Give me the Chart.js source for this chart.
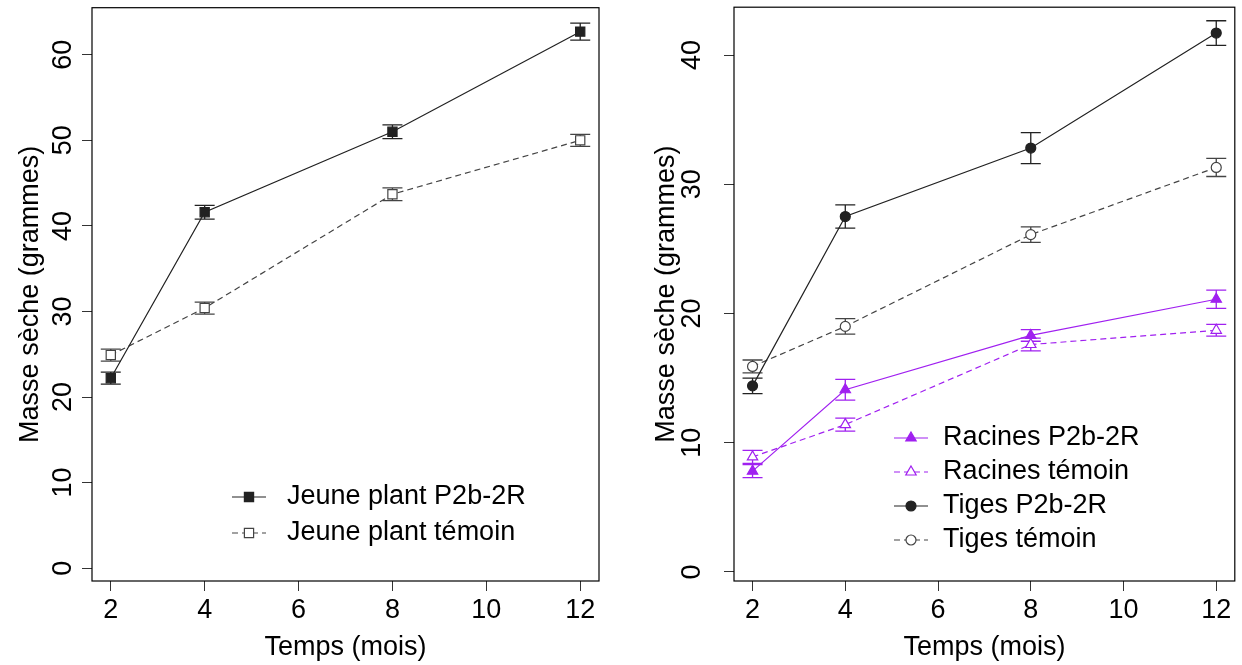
<!DOCTYPE html>
<html>
<head>
<meta charset="utf-8">
<script src="https://cdn.jsdelivr.net/npm/chart.js@4.4.1/dist/chart.umd.min.js"></script>
<style>
  html, body { margin: 0; padding: 0; background: #fff; }
  #gauche, #droite { position: absolute; top: 0; }
  #gauche { left: 0; }
  #droite { left: 621px; }
</style>
</head>
<body>
<canvas id="gauche" width="621" height="665"></canvas>
<canvas id="droite" width="621" height="665"></canvas>
<script>
// mois de mesure
const mois = [2, 4, 8, 12];
const xTicks = [2, 4, 6, 8, 10, 12];
const yTicksGauche = [0, 10, 20, 30, 40, 50, 60];
const yTicksDroite = [0, 10, 20, 30, 40];

// panneau gauche : jeune plant
const jeunePlantP2b = [22.2, 41.6, 51.0, 62.7];
const jeunePlantP2bErr = [0.7, 0.8, 0.8, 1.0];
const jeunePlantTemoin = [24.9, 30.4, 43.7, 50.0];
const jeunePlantTemoinErr = [0.7, 0.7, 0.75, 0.7];

// panneau droit : racines et tiges
const racinesP2b = [7.8, 14.1, 18.3, 21.1];
const racinesP2bErr = [0.5, 0.8, 0.45, 0.7];
const racinesTemoin = [8.9, 11.4, 17.6, 18.7];
const racinesTemoinErr = [0.5, 0.5, 0.5, 0.45];
const tigesP2b = [14.4, 27.5, 32.8, 41.7];
const tigesP2bErr = [0.6, 0.9, 1.2, 0.95];
const tigesTemoin = [15.9, 19.0, 26.1, 31.3];
const tigesTemoinErr = [0.5, 0.6, 0.6, 0.7];

const police = '"Liberation Sans", Arial, sans-serif';
const noir = '#222';
const violet = '#a020f0';

const points = vals => mois.map((m, i) => ({ x: m, y: vals[i] }));

function serie(label, vals, err, couleur, plein, style, rayon, tirets) {
  return {
    label: label,
    data: points(vals),
    err: err,
    borderColor: couleur,
    borderWidth: 1.2,
    borderDash: tirets ? [6, 4] : [],
    pointStyle: style,
    pointRadius: rayon,
    pointBackgroundColor: plein ? couleur : '#fff',
    pointBorderColor: couleur,
    pointBorderWidth: 1.2,
    tension: 0,
  };
}

// barres d'erreur
const errorBars = {
  id: 'errorBars',
  beforeDatasetsDraw(chart) {
    const { ctx, scales: { x, y } } = chart;
    chart.data.datasets.forEach(ds => {
      ctx.save();
      ctx.strokeStyle = ds.borderColor;
      ctx.lineWidth = 1.3;
      ds.data.forEach((p, j) => {
        const px = x.getPixelForValue(p.x);
        const haut = y.getPixelForValue(p.y + ds.err[j]);
        const bas = y.getPixelForValue(p.y - ds.err[j]);
        ctx.beginPath();
        ctx.moveTo(px, haut); ctx.lineTo(px, bas);
        ctx.moveTo(px - 10, haut); ctx.lineTo(px + 10, haut);
        ctx.moveTo(px - 10, bas); ctx.lineTo(px + 10, bas);
        ctx.stroke();
      });
      ctx.restore();
    });
  }
};

// cadre autour de la zone de tracé
const cadre = {
  id: 'cadre',
  afterDraw(chart) {
    const { ctx, chartArea: a } = chart;
    ctx.save();
    ctx.strokeStyle = '#000';
    ctx.lineWidth = 1.2;
    ctx.strokeRect(a.left, a.top, a.right - a.left, a.bottom - a.top);
    ctx.restore();
  }
};

// légende façon R, dans la zone de tracé
const legendeR = {
  id: 'legendeR',
  afterDraw(chart, args, opts) {
    const ctx = chart.ctx;
    ctx.save();
    ctx.font = '27px ' + police;
    ctx.textBaseline = 'middle';
    chart.data.datasets.forEach((ds, i) => {
      const y = opts.y + i * opts.dy;
      ctx.strokeStyle = ds.borderColor;
      ctx.lineWidth = 1.2;
      ctx.setLineDash(ds.borderDash);
      ctx.beginPath();
      ctx.moveTo(opts.x - 17, y); ctx.lineTo(opts.x + 17, y);
      ctx.stroke();
      ctx.setLineDash([]);
      ctx.fillStyle = ds.pointBackgroundColor;
      ctx.strokeStyle = ds.pointBorderColor;
      Chart.helpers.drawPoint(ctx, { pointStyle: ds.pointStyle, radius: ds.pointRadius, borderWidth: 1.2, rotation: 0 }, opts.x, y);
      ctx.fillStyle = '#000';
      ctx.fillText(ds.label, opts.tx, y);
    });
    ctx.restore();
  }
};

function options(yMin, yMax, yTicks, yLarg, yPad, titrePad, xHaut, droitePad, leg) {
  const fonte = { family: police, size: 27 };
  return {
    responsive: false,
    animation: false,
    layout: { padding: { left: 0, right: droitePad, top: 5, bottom: 0 } },
    plugins: { legend: { display: false }, tooltip: { enabled: false }, legendeR: leg },
    scales: {
      x: {
        type: 'linear', min: 1.6, max: 12.4,
        afterBuildTicks: s => { s.ticks = xTicks.map(v => ({ value: v })); },
        afterFit: s => { s.height = xHaut; s.paddingLeft = 0; s.paddingRight = 0; },
        grid: { drawOnChartArea: false, tickLength: 10, tickColor: '#333' },
        border: { display: false },
        ticks: { font: fonte, color: '#000', padding: 3, maxRotation: 0 },
        title: { display: true, text: 'Temps (mois)', font: fonte, color: '#000', padding: { top: 0, bottom: 1 } }
      },
      y: {
        type: 'linear', min: yMin, max: yMax,
        afterBuildTicks: s => { s.ticks = yTicks.map(v => ({ value: v })); },
        afterFit: s => { s.width = yLarg; s.paddingTop = 0; s.paddingBottom = 0; },
        grid: { drawOnChartArea: false, tickLength: 10, tickColor: '#333' },
        border: { display: false },
        ticks: { font: fonte, color: '#000', padding: yPad, minRotation: 90, maxRotation: 90, crossAlign: 'center' },
        title: { display: true, text: 'Masse sèche (grammes)', font: fonte, color: '#000', padding: { top: titrePad, bottom: 0 } }
      }
    }
  };
}

new Chart(document.getElementById('gauche'), {
  type: 'line',
  data: {
    datasets: [
      serie('Jeune plant P2b-2R', jeunePlantP2b, jeunePlantP2bErr, noir, true, 'rect', 6.5, false),
      serie('Jeune plant témoin', jeunePlantTemoin, jeunePlantTemoinErr, '#444', false, 'rect', 6.5, true),
    ]
  },
  options: options(-1.5, 65.5, yTicksGauche, 92, 3, 14, 84, 22, { x: 249, tx: 287, y: 497, dy: 36 }),
  plugins: [errorBars, cadre, legendeR]
});

new Chart(document.getElementById('droite'), {
  type: 'line',
  data: {
    datasets: [
      serie('Racines P2b-2R', racinesP2b, racinesP2bErr, violet, true, 'triangle', 6, false),
      serie('Racines témoin', racinesTemoin, racinesTemoinErr, violet, false, 'triangle', 6, true),
      serie('Tiges P2b-2R', tigesP2b, tigesP2bErr, noir, true, 'circle', 5, false),
      serie('Tiges témoin', tigesTemoin, tigesTemoinErr, '#444', false, 'circle', 5, true),
    ]
  },
  options: options(-0.7, 43.7, yTicksDroite, 113, 16, 29, 84, 2, { x: 290, tx: 322, y: 438, dy: 34 }),
  plugins: [errorBars, cadre, legendeR]
});
</script>
</body>
</html>
